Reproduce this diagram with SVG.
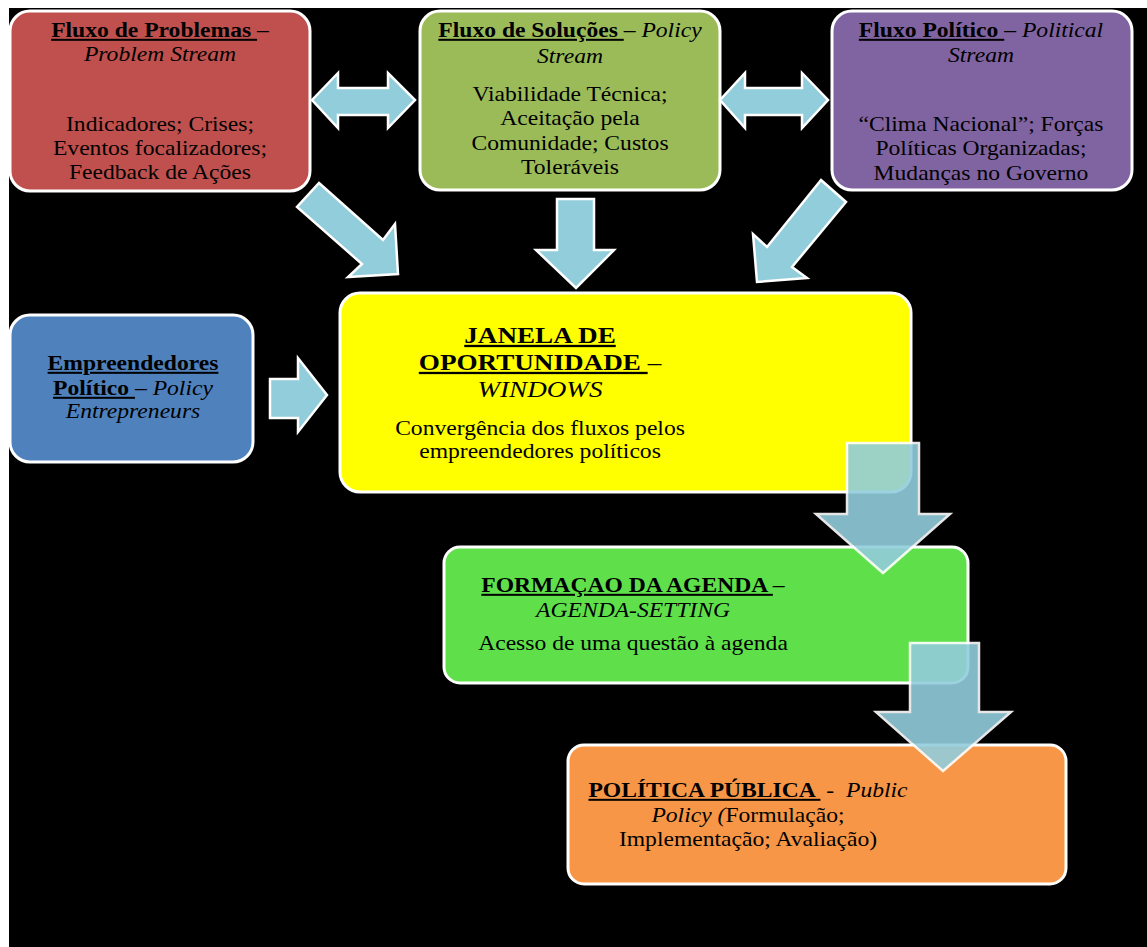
<svg xmlns="http://www.w3.org/2000/svg" width="1147" height="947" viewBox="0 0 1147 947">
<style>
.box{stroke:#fff;stroke-width:3}
.arr{fill:#92CDDC;stroke:#fff;stroke-width:2.5;stroke-linejoin:miter}
.arrT{fill:#92CDDC;stroke:#fff;stroke-width:2.5;opacity:0.9}
text{font-family:"Liberation Serif","Times New Roman",serif;font-size:20px;fill:#000;text-anchor:middle}
.b{font-weight:bold}
.u{text-decoration:underline}
.i{font-style:italic}
.big{font-size:23px}
</style>
<rect x="0" y="0" width="1147" height="947" fill="#fff"/>
<rect x="9" y="8" width="1138" height="939" fill="#000"/>

<g id="fluxo-problemas">
<rect class="box" x="10" y="11" width="300" height="180" rx="20" fill="#C0504D"/>
<g transform="translate(160,0) scale(1.18,1)">
<text x="0" y="37"><tspan class="b u">Fluxo de Problemas </tspan><tspan>–</tspan></text>
<text x="0" y="61" class="i">Problem Stream</text>
<text x="0" y="131">Indicadores; Crises;</text>
<text x="0" y="155">Eventos focalizadores;</text>
<text x="0" y="179">Feedback de Ações</text>
</g>
</g>

<g id="fluxo-solucoes">
<rect class="box" x="420" y="11" width="300" height="179" rx="20" fill="#9BBB59"/>
<g transform="translate(570,0) scale(1.18,1)">
<text x="0" y="37"><tspan class="b u">Fluxo de Soluções </tspan><tspan>– </tspan><tspan class="i">Policy</tspan></text>
<text x="0" y="63" class="i">Stream</text>
<text x="0" y="101">Viabilidade Técnica;</text>
<text x="0" y="125">Aceitação pela</text>
<text x="0" y="150">Comunidade; Custos</text>
<text x="0" y="174">Toleráveis</text>
</g>
</g>

<g id="fluxo-politico">
<rect class="box" x="832" y="11" width="300" height="179" rx="20" fill="#8064A2"/>
<g transform="translate(981,0) scale(1.18,1)">
<text x="0" y="37"><tspan class="b u">Fluxo Político </tspan><tspan>– </tspan><tspan class="i">Political</tspan></text>
<text x="0" y="62" class="i">Stream</text>
<text x="0" y="131">“Clima Nacional”; Forças</text>
<text x="0" y="155">Políticas Organizadas;</text>
<text x="0" y="180">Mudanças no Governo</text>
</g>
</g>

<g id="empreendedores">
<rect class="box" x="10" y="315" width="243" height="147" rx="20" fill="#4F81BD"/>
<g transform="translate(133,0) scale(1.18,1)">
<text x="0" y="370" class="b u">Empreendedores</text>
<text x="0" y="395"><tspan class="b u">Político </tspan><tspan>– </tspan><tspan class="i">Policy</tspan></text>
<text x="0" y="418" class="i">Entrepreneurs</text>
</g>
</g>

<g id="janela">
<rect class="box" x="340" y="293" width="571" height="199" rx="20" fill="#FFFF00"/>
<g transform="translate(540,0) scale(1.18,1)">
<text x="0" y="343" class="b u big">JANELA DE</text>
<text x="0" y="370" class="big"><tspan class="b u">OPORTUNIDADE </tspan><tspan>–</tspan></text>
<text x="0" y="397" class="i big">WINDOWS</text>
<text x="0" y="435">Convergência dos fluxos pelos</text>
<text x="0" y="458">empreendedores políticos</text>
</g>
</g>

<g id="agenda">
<rect class="box" x="444" y="547" width="524" height="136" rx="16" fill="#5FE04B"/>
<g transform="translate(633,0) scale(1.18,1)">
<text x="0" y="592"><tspan class="b u">FORMAÇAO DA AGENDA </tspan><tspan>–</tspan></text>
<text x="0" y="617" class="i">AGENDA-SETTING</text>
<text x="0" y="650">Acesso de uma questão à agenda</text>
</g>
</g>

<g id="politica-publica">
<rect class="box" x="568" y="745" width="498" height="139" rx="16" fill="#F79646"/>
<g transform="translate(748,0) scale(1.18,1)">
<text x="0" y="797"><tspan class="b u">POLÍTICA PÚBLICA </tspan><tspan>&#160;-&#160; </tspan><tspan class="i">Public</tspan></text>
<text x="0" y="822"><tspan class="i">Policy (</tspan><tspan>Formulação;</tspan></text>
<text x="0" y="846">Implementação; Avaliação)</text>
</g>
</g>

<g id="connectors">
<polygon class="arr" points="312,100 338,73 338,88 388,88 388,73 415,100 388,128 388,115 338,115 338,128"/>
<polygon class="arr" points="720,100 745,73 745,88 802,88 802,73 828,100 802,128 802,115 745,115 745,128"/>
<polygon class="arr" points="319,183 383,240 395,224 398,274 348,277 362,264 297,207"/>
<polygon class="arr" points="557,199 594,199 594,250 614,250 576,288 536,250 557,250"/>
<polygon class="arr" points="821,180 846,202 792,267 807,278 757,282 753,234 767,247"/>
<polygon class="arr" points="270,379 298,379 298,358 327,395 298,432 298,418 270,418"/>
<polygon class="arrT" points="847,443 919,443 919,514 950,514 883,573 816,514 847,514"/>
<polygon class="arrT" points="910,643 979,643 979,712 1011,712 943,771 876,712 910,712"/>
</g>
</svg>
